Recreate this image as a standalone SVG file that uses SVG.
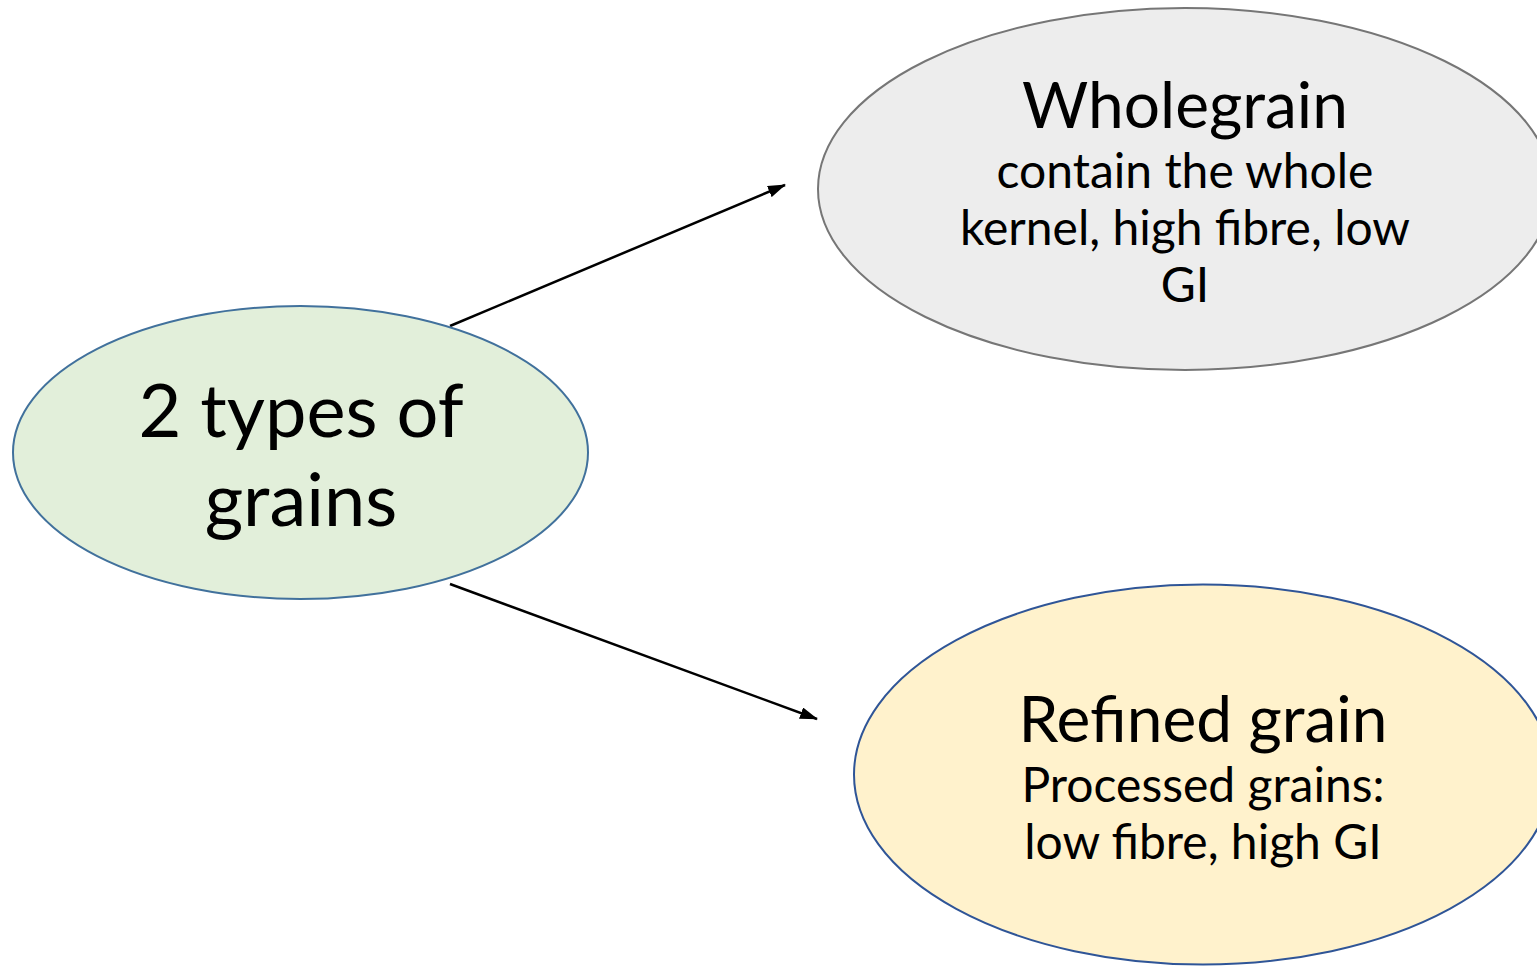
<svg xmlns="http://www.w3.org/2000/svg" width="1537" height="966" viewBox="0 0 1537 966">
<defs>
<marker id="arr" markerWidth="18" markerHeight="12" refX="17" refY="6" orient="auto" markerUnits="userSpaceOnUse">
<path d="M0,0 L18,6 L0,12 Z" fill="#000"/>
</marker>
<style>
text{font-family:Lato,"Liberation Sans",sans-serif;fill:#000;text-anchor:middle}
.big{font-size:74px}
.title{font-size:64px}
.sub{font-size:48px}
.edge{stroke:#000;stroke-width:2.5;fill:none;marker-end:url(#arr)}
</style>
</defs>
<rect width="1537" height="966" fill="#fff"/>
<g id="connectors">
<line class="edge" x1="450" y1="326" x2="785" y2="185"/>
<line class="edge" x1="450" y1="584" x2="817" y2="719"/>
</g>
<g id="grains">
<ellipse cx="300.5" cy="452.5" rx="287.5" ry="146.5" fill="#e2efda" stroke="#41719c" stroke-width="2"/>
<text class="big" x="301" y="437">2 types of</text>
<text class="big" x="301" y="526">grains</text>
</g>
<g id="wholegrain">
<ellipse cx="1185" cy="189" rx="367" ry="181" fill="#ededed" stroke="#767676" stroke-width="2"/>
<text class="title" x="1185" y="128">Wholegrain</text>
<text class="sub" x="1185" y="188">contain the whole</text>
<text class="sub" x="1185" y="245">kernel, high fibre, low</text>
<text class="sub" x="1185" y="302">GI</text>
</g>
<g id="refined">
<ellipse cx="1203" cy="774.5" rx="349" ry="190" fill="#fff2cc" stroke="#2f5597" stroke-width="2"/>
<text class="title" x="1203" y="742">Refined grain</text>
<text class="sub" x="1203" y="802">Processed grains:</text>
<text class="sub" x="1203" y="859">low fibre, high GI</text>
</g>
</svg>
